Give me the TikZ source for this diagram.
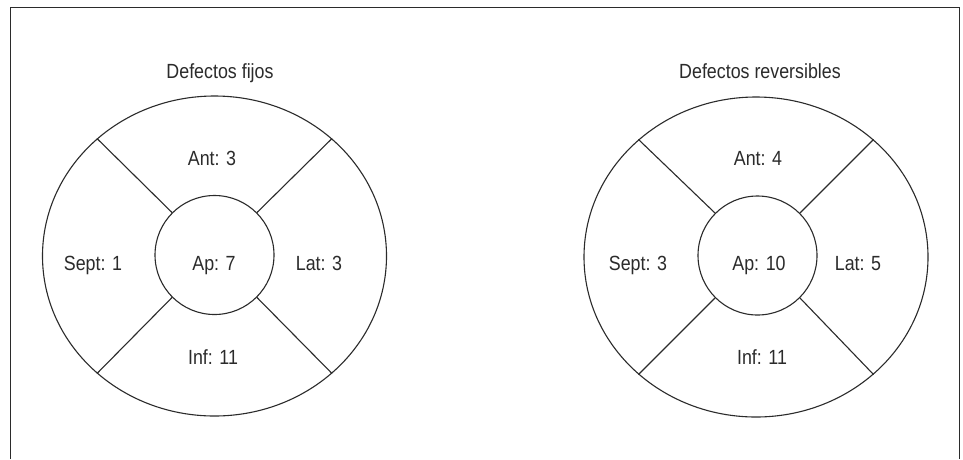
\documentclass[tikz,border=0pt]{standalone}
\usepackage{fontspec}
\setmainfont{Liberation Sans}[FakeStretch=0.87]
\usetikzlibrary{shapes.geometric}
\definecolor{ink}{HTML}{2B2B2B}
\tikzset{
  lbl/.style={anchor=base, inner sep=0pt, text=ink, font=\fontsize{20.5}{24}\selectfont},
  ttl/.style={anchor=base, inner sep=0pt, text=ink, font=\fontsize{20.5}{24}\selectfont},
  outerring/.style={draw=ink, line width=1.1pt, ellipse, minimum width=344pt, minimum height=320pt, inner sep=0pt},
  innerring/.style={draw=ink, line width=1.1pt, circle, minimum size=119pt, inner sep=0pt},
  spoke/.style={draw=ink, line width=1.1pt}
}
\begin{document}
\begin{tikzpicture}[x=1pt,y=-1pt]
\useasboundingbox (0,0) rectangle (963,459);
\fill[white] (0,0) rectangle (963,459);
% frame
\coordinate (f1) at (10.5,459);
\coordinate (f2) at (10.5,7.5);
\coordinate (f3) at (959.5,7.5);
\coordinate (f4) at (959.5,459);
\draw[ink, line width=1pt] (f1) -- (f2) -- (f3) -- (f4);

% left diagram
\node[ttl] (tL) at (220,78) {Defectos fijos};
\node[outerring] (oL) at (214.5,256) {};
\node[innerring] (iL) at (214.5,255) {};
\foreach \a in {45,135,225,315} \draw[spoke] (iL.\a) -- (oL.\a);
\node[lbl] (antL) at (212,165) {Ant: 3};
\node[lbl] (sepL) at (93,270) {Sept: 1};
\node[lbl] (apL) at (214,270) {Ap: 7};
\node[lbl] (latL) at (319,270) {Lat: 3};
\node[lbl] (infL) at (213,364) {Inf: 11};

% right diagram
\node[ttl] (tR) at (760,78) {Defectos reversibles};
\node[outerring] (oR) at (756,257) {};
\node[innerring] (iR) at (757.5,255.5) {};
\foreach \a in {45,135,225,315} \draw[spoke] (iR.\a) -- (oR.\a);
\node[lbl] (antR) at (758,165) {Ant: 4};
\node[lbl] (sepR) at (638,270) {Sept: 3};
\node[lbl] (apR) at (759,270) {Ap: 10};
\node[lbl] (latR) at (858,270) {Lat: 5};
\node[lbl] (infR) at (762,364) {Inf: 11};
\end{tikzpicture}
\end{document}
